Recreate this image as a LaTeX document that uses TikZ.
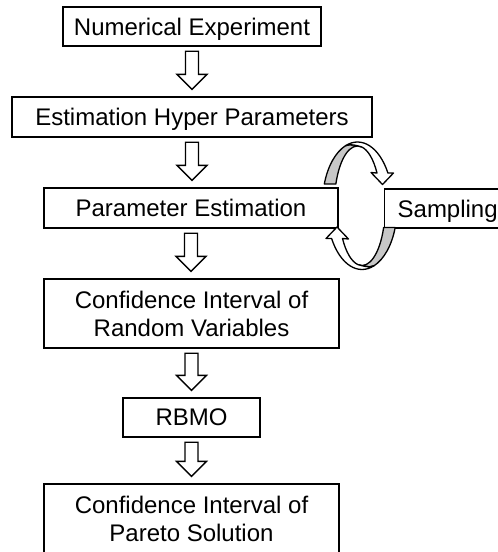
\documentclass[tikz,border=0pt]{standalone}
\usepackage{fontspec}
\setmainfont{Liberation Sans}
\usetikzlibrary{calc}
\tikzset{
  box/.style={draw, line width=1.3pt, inner sep=0pt, font=\fontsize{24}{28}\selectfont},
  oneline/.style={text depth=0pt},
  twoline/.style={align=center},
  blockarr/.style={draw, fill=white, line width=1.3pt, line join=miter},
  loopfront/.style={draw, fill=white, line width=1.3pt, line join=round},
  loopback/.style={draw, fill=black!22, line width=1.3pt, line join=round},
}
\newcommand\blockarrow[2]{%
  \draw[blockarr] let \p1=($(#1.south)+(0,4.5)$), \p2=($(#2.north)+(0,-7)$) in
    (\x1-6.5pt,\y1) -- (\x1+6.5pt,\y1) -- (\x1+6.5pt,\y2+15pt) -- (\x1+15pt,\y2+15pt)
    -- (\x1,\y2) -- (\x1-15pt,\y2+15pt) -- (\x1-6.5pt,\y2+15pt) -- cycle;}
\newcommand\looppieces{%
  \path[loopback] (-161.5:35 and 61.5)
    arc[start angle=-161.5, end angle=-110, x radius=35, y radius=61.5]
    .. controls (-7,-60) and (-1,-58) .. (-80:23 and 57.5)
    arc[start angle=-80, end angle=-160.2, x radius=23, y radius=57.5] -- cycle;
  \path[loopfront] (-110:35 and 61.5)
    arc[start angle=-110, end angle=-29.73, x radius=35, y radius=61.5]
    -- (36,-30.5) -- (25,-19) -- (13.5,-31) -- (-32:23 and 57.5)
    arc[start angle=-32, end angle=-80, x radius=23, y radius=57.5]
    .. controls (-1,-58) and (-7,-60) .. (-110:35 and 61.5) -- cycle;}
\begin{document}
\begin{tikzpicture}[x=1pt, y=-1pt]
  \useasboundingbox (0,0) rectangle (498,552);
  \clip (0,0) rectangle (498,552);
  \node[box,oneline,minimum width=258pt,minimum height=39pt] (n1) at (192,26.5) {Numerical Experiment};
  \node[box,oneline,minimum width=360pt,minimum height=40pt] (n2) at (192,117) {Estimation Hyper Parameters};
  \node[box,oneline,minimum width=294pt,minimum height=40pt] (n3) at (191,208) {Parameter Estimation};
  \node[box,oneline,anchor=west,inner xsep=13pt,minimum height=39pt] (samp) at (384,208.5) {Sampling};
  \node[box,twoline,minimum width=295pt,minimum height=69pt] (n4) at (191.5,313.5) {Confidence Interval of\\Random Variables};
  \node[box,oneline,minimum width=137pt,minimum height=39pt] (n5) at (191.5,417.5) {RBMO};
  \node[box,twoline,minimum width=295pt,minimum height=70pt] (n6) at (191.5,519) {Confidence Interval of\\Pareto Solution};
  \blockarrow{n1}{n2}
  \blockarrow{n2}{n3}
  \blockarrow{n3}{n4}
  \blockarrow{n4}{n5}
  \blockarrow{n5}{n6}
  \begin{scope}[shift={(357.5,203.5)}]
    \looppieces
  \end{scope}
  \begin{scope}[shift={(362,208)}, rotate=180]
    \looppieces
  \end{scope}
\end{tikzpicture}
\end{document}
